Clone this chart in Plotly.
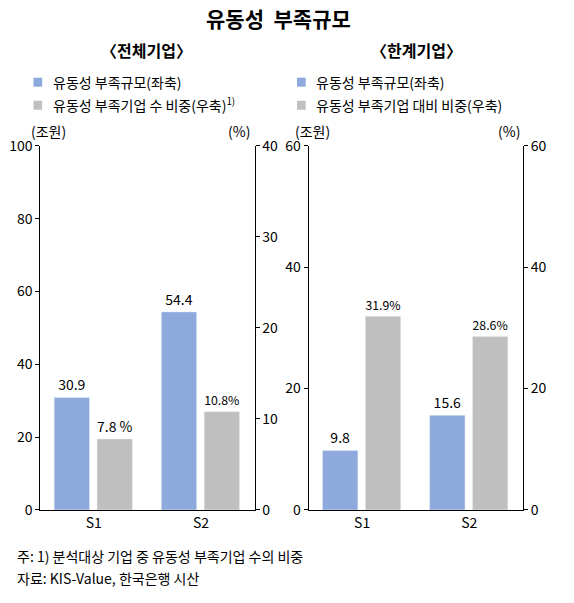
import plotly.graph_objects as go

cats = ["S1", "S2"]
all_amount = [30.9, 54.4]
all_share = [7.8, 10.8]
all_amount_txt = ["30.9", "54.4"]
all_share_txt = ["7.8 %", "10.8%"]
zombie_amount = [9.8, 15.6]
zombie_share = [31.9, 28.6]
zombie_amount_txt = ["9.8", "15.6"]
zombie_share_txt = ["31.9%", "28.6%"]

BLUE = "#8EA9DB"
GRAY = "#BFBFBF"
F = "Noto Sans CJK KR"
W, H = 574, 603

def px(x): return ((x - 6.6) / 1.036) / W
def py(y): return 1 - ((y - 20.5) / 0.964) / H

fig = go.Figure()
tf = dict(family=F, size=14, color="black")
common = dict(width=0.33, textposition="outside", cliponaxis=False, textfont=tf, showlegend=False)
fig.add_bar(x=cats, y=all_amount, text=all_amount_txt, marker_color=BLUE, offset=-0.37, xaxis="x", yaxis="y", **common)
fig.add_bar(x=cats, y=all_share, text=all_share_txt, marker_color=GRAY, offset=0.03, xaxis="x", yaxis="y2", **common)
fig.add_bar(x=cats, y=zombie_amount, text=zombie_amount_txt, marker_color=BLUE, offset=-0.37, xaxis="x2", yaxis="y3", **common)
fig.add_bar(x=cats, y=zombie_share, text=zombie_share_txt, marker_color=GRAY, offset=0.03, xaxis="x2", yaxis="y4", **common)

yd = [py(510), py(147)]
ax = dict(showline=True, linecolor="black", linewidth=1, showgrid=False, zeroline=False,
          ticks="outside", ticklen=4, tickcolor="black", tickfont=dict(family=F, size=14, color="black"))
fig.update_layout(
    width=W, height=H, margin=dict(l=0, r=0, t=0, b=0),
    plot_bgcolor="white", paper_bgcolor="white", font=dict(family=F),
    xaxis=dict(domain=[px(40), px(262)], anchor="y", **{**ax, "ticks": ""}),
    xaxis2=dict(domain=[px(318), px(540)], anchor="y3", **{**ax, "ticks": ""}),
    yaxis=dict(domain=yd, range=[0, 100], dtick=20, anchor="x", **ax),
    yaxis2=dict(range=[0, 40], dtick=10, overlaying="y", side="right", anchor="x", **ax),
    yaxis3=dict(domain=yd, range=[0, 60], dtick=20, anchor="x2", **ax),
    yaxis4=dict(range=[0, 60], dtick=20, overlaying="y3", side="right", anchor="x2", **ax),
)

def ann(x, y, t, size=14, bold=False, xanchor="left"):
    fig.add_annotation(x=px(x), y=py(y), xref="paper", yref="paper", text=("<b>%s</b>" % t if bold else t),
                       showarrow=False, xanchor=xanchor, yanchor="middle",
                       font=dict(family=F, size=size, color="black"))

ann(287, 20, "유동성  부족규모", 21, True, "center")
ann(150, 51, "〈전체기업〉", 16, True, "center")
ann(430, 51, "〈한계기업〉", 16, True, "center")
for (x, y, c, t) in [(33, 83, BLUE, "유동성 부족규모(좌축)"),
                     (33, 106, GRAY, "유동성 부족기업 수 비중(우축)<sup>1)</sup>"),
                     (306, 83, BLUE, "유동성 부족규모(좌축)"),
                     (306, 106, GRAY, "유동성 부족기업 대비 비중(우축)")]:
    fig.add_shape(type="rect", xref="paper", yref="paper", x0=px(x), x1=px(x + 9),
                  y0=py(y + 5), y1=py(y - 4), fillcolor=c, line_width=0)
    ann(x + 18, y, t, 14)
ann(28, 132, "(조원)", 14)
ann(232, 132, "(%)", 14)
ann(302, 132, "(조원)", 14)
ann(512, 132, "(%)", 14)
ann(14, 556, "주: 1) 분석대상 기업 중 유동성 부족기업 수의 비중", 14)
ann(14, 578, "자료: KIS-Value, 한국은행 시산", 14)

fig.write_html("out.html")
